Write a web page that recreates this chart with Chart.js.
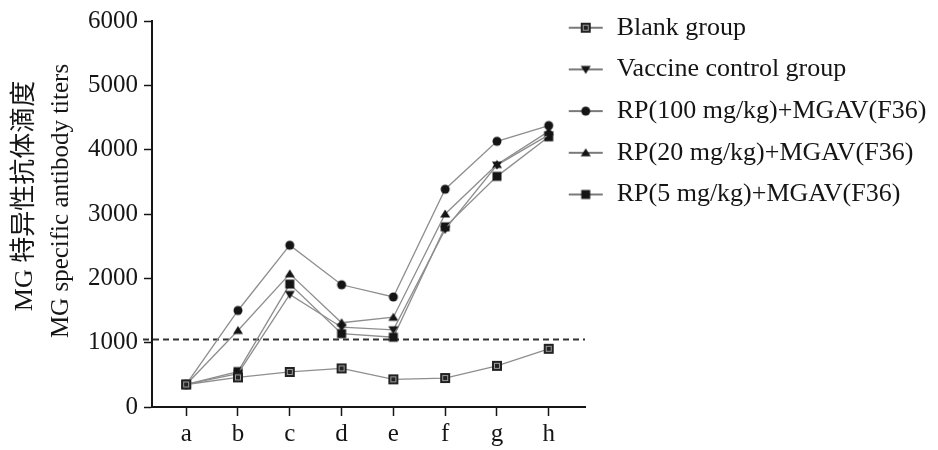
<!DOCTYPE html>
<html><head><meta charset="utf-8">
<script src="https://cdn.jsdelivr.net/npm/chart.js@4.4.1/dist/chart.umd.min.js"></script>
<style>html,body{margin:0;padding:0;background:#fff;}canvas{display:block;}</style>
</head><body>
<canvas id="c" width="938" height="450"></canvas>
<script>
// ---- data ----
const categories = ['a', 'b', 'c', 'd', 'e', 'f', 'g', 'h'];
const blankGroup     = [350, 460, 545, 600, 430, 450, 640, 905];
const vaccineControl = [350, 520, 1750, 1240, 1200, 2760, 3760, 4230];
const rp100          = [350, 1500, 2515, 1900, 1710, 3385, 4130, 4375];
const rp20           = [350, 1190, 2070, 1310, 1395, 3000, 3770, 4285];
const rp5            = [350, 550, 1910, 1140, 1085, 2800, 3585, 4200];
const seriesLabels = ['Blank group', 'Vaccine control group', 'RP(100 mg/kg)+MGAV(F36)', 'RP(20 mg/kg)+MGAV(F36)', 'RP(5 mg/kg)+MGAV(F36)'];
const yTicks = [0, 1000, 2000, 3000, 4000, 5000, 6000];
const yTickLabels = ['0', '1000', '2000', '3000', '4000', '5000', '6000'];
const cutoff = 1050;
const yTitleCN = 'MG 特异性抗体滴度';
const yTitleEN = 'MG specific antibody titers';

const SERIF = "'Liberation Serif', 'Times New Roman', serif";
const LINE_COLOR = '#8e8e8e';
const INK = '#151515';

function markerCanvas(kind, withLine) {
  const w = withLine ? 36 : 12, h = 14;
  const c = document.createElement('canvas');
  c.width = w; c.height = h;
  const g = c.getContext('2d');
  const cx = w / 2, cy = h / 2;
  if (withLine) {
    g.strokeStyle = '#7a7a7a'; g.lineWidth = 2;
    g.beginPath(); g.moveTo(1, cy); g.lineTo(w - 1, cy); g.stroke();
  }
  g.fillStyle = INK;
  g.beginPath();
  if (kind === 'blank') {
    g.fillStyle = '#222'; g.fillRect(cx - 5, cy - 5, 10, 10);
    g.strokeStyle = '#9a9a9a'; g.lineWidth = 1; g.strokeRect(cx - 2.5, cy - 2.5, 5, 5);
  } else if (kind === 'down') {
    g.moveTo(cx - 5, cy - 3.5); g.lineTo(cx + 5, cy - 3.5); g.lineTo(cx, cy + 4.5); g.closePath(); g.fill();
  } else if (kind === 'up') {
    g.moveTo(cx - 5, cy + 3.5); g.lineTo(cx + 5, cy + 3.5); g.lineTo(cx, cy - 4.5); g.closePath(); g.fill();
  } else if (kind === 'circle') {
    g.arc(cx, cy, 4.5, 0, Math.PI * 2); g.fill();
  } else if (kind === 'square') {
    g.fillRect(cx - 4.5, cy - 4.5, 9, 9);
  }
  return c;
}

const kinds = ['blank', 'down', 'circle', 'up', 'square'];
const seriesValues = [blankGroup, vaccineControl, rp100, rp20, rp5];
const pointImgs = kinds.map(k => markerCanvas(k, false));
const legendImgs = kinds.map(k => markerCanvas(k, true));

const datasets = seriesValues.map((vals, i) => ({
  label: seriesLabels[i],
  data: vals.map((v, j) => ({ x: j, y: v })),
  borderColor: LINE_COLOR,
  borderWidth: 1.3,
  backgroundColor: INK,
  pointStyle: pointImgs[i],
  pointRadius: 5,
  tension: 0,
  fill: false
}));

const bgPlugin = {
  id: 'bg',
  beforeDraw(chart) {
    const ctx = chart.ctx;
    ctx.save(); ctx.fillStyle = '#fff'; ctx.fillRect(0, 0, chart.width, chart.height); ctx.restore();
  }
};

const cutoffPlugin = {
  id: 'cutoff',
  beforeDatasetsDraw(chart) {
    const { ctx, chartArea } = chart;
    const y = chart.scales.y.getPixelForValue(cutoff);
    ctx.save();
    ctx.strokeStyle = '#333'; ctx.lineWidth = 2; ctx.setLineDash([6, 4]);
    ctx.beginPath(); ctx.moveTo(chartArea.left - 9, y); ctx.lineTo(chartArea.right, y); ctx.stroke();
    ctx.restore();
  }
};

const legendPlace = {
  id: 'legendPlace',
  afterLayout(chart) {
    const lg = chart.legend;
    if (!lg) return;
    lg.left = 552; lg.right = chart.width;
    lg.top = -1; lg.bottom = chart.height;
  }
};

const yTitles = {
  id: 'yTitles',
  afterDraw(chart) {
    const ctx = chart.ctx;
    ctx.save();
    ctx.fillStyle = INK; ctx.textAlign = 'center'; ctx.textBaseline = 'middle';
    ctx.save();
    ctx.translate(25, 196); ctx.rotate(-Math.PI / 2);
    ctx.font = "26px 'Liberation Serif', 'Noto Sans CJK SC'";
    ctx.fillText(yTitleCN, 0, 0);
    ctx.restore();
    ctx.save();
    ctx.translate(61, 201); ctx.rotate(-Math.PI / 2);
    ctx.font = "25px 'Liberation Serif'";
    ctx.fillText(yTitleEN, 0, 0);
    ctx.restore();
    ctx.restore();
  }
};

new Chart(document.getElementById('c'), {
  type: 'line',
  data: { datasets },
  plugins: [bgPlugin, cutoffPlugin, legendPlace, yTitles],
  options: {
    responsive: false,
    animation: false,
    devicePixelRatio: 1,
    layout: { padding: { top: 18, left: 0, right: 0, bottom: 0 } },
    plugins: {
      tooltip: { enabled: false },
      legend: {
        position: 'right',
        align: 'start',
        maxWidth: 353,
        labels: {
          usePointStyle: true,
          pointStyleWidth: 36,
          padding: 15.7,
          color: INK,
          font: { family: SERIF, size: 26 },
          generateLabels: (chart) => chart.data.datasets.map((ds, i) => ({
            text: ds.label,
            pointStyle: legendImgs[i],
            datasetIndex: i,
            hidden: false,
            fontColor: INK,
            lineWidth: 0,
            strokeStyle: 'rgba(0,0,0,0)',
            fillStyle: 'rgba(0,0,0,0)'
          }))
        }
      }
    },
    scales: {
      x: {
        type: 'linear',
        min: -0.66,
        max: 7.7,
        afterBuildTicks: (s) => { s.ticks = categories.map((_, i) => ({ value: i })); },
        afterFit: (s) => { s.height = 43; },
        ticks: {
          callback: (v) => categories[v] ?? '',
          font: { family: SERIF, size: 25 },
          color: INK,
          padding: 3,
          autoSkip: false,
          maxRotation: 0
        },
        grid: { drawOnChartArea: false, tickLength: 9, tickWidth: 1.5, tickColor: INK },
        border: { color: INK, width: 2 }
      },
      y: {
        min: 0,
        max: 6000,
        afterBuildTicks: (s) => { s.ticks = yTicks.map(v => ({ value: v })); },
        afterFit: (s) => { s.width = 152; },
        ticks: {
          callback: (v) => yTickLabels[yTicks.indexOf(v)],
          font: { family: SERIF, size: 25 },
          color: INK,
          padding: 6
        },
        grid: { drawOnChartArea: false, tickLength: 8, tickWidth: 1.5, tickColor: INK },
        border: { color: INK, width: 2 }
      }
    }
  }
});
</script>
</body></html>
